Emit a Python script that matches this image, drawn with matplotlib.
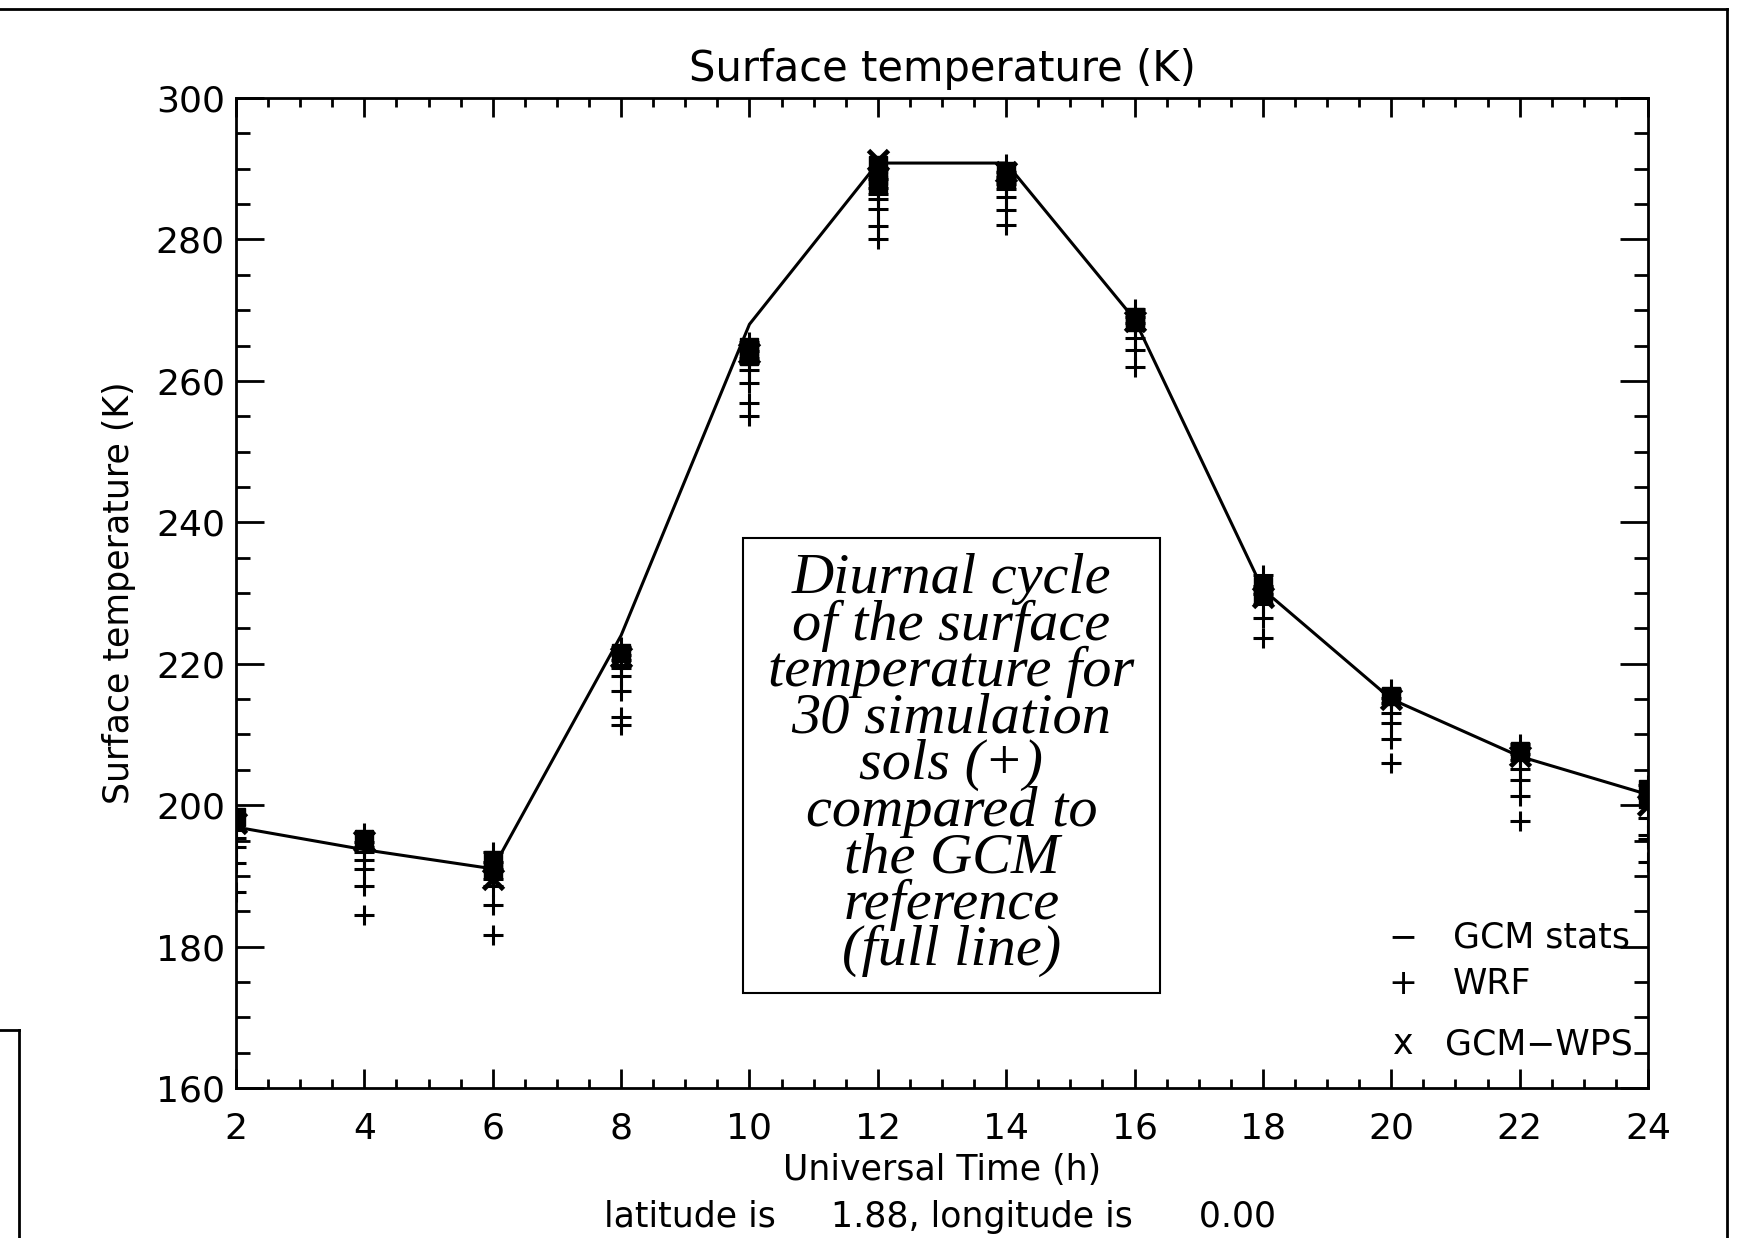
import matplotlib
matplotlib.use('Agg')
import matplotlib.pyplot as plt
from matplotlib.lines import Line2D
from matplotlib.patches import Rectangle
from matplotlib.ticker import MultipleLocator

plt.rcParams['font.family'] = 'DejaVu Sans'

# ---- data ----
hours = [2, 4, 6, 8, 10, 12, 14, 16, 18, 20, 22, 24]

# GCM reference (full line)
gcm_line = [196.9, 193.7, 191.0, 224.0, 268.0, 290.8, 290.8, 268.7, 230.5, 215.0, 206.9, 201.5]

# GCM stats (filled squares), several per hour
gcm_stats = [
    [198.3],
    [195.2],
    [192.3, 190.8],
    [221.5],
    [264.8, 263.5],
    [290.5, 289.0, 287.8],
    [289.7, 288.6],
    [269.0, 268.3],
    [231.0, 229.8],
    [215.4],
    [207.6],
    [202.3, 200.9],
]

# GCM-WPS (x)
gcm_wps = [197.5, 195.0, 189.5, 221.0, 264.0, 291.2, 289.5, 268.5, 229.5, 215.0, 207.0, 200.0]

# WRF, 30 simulation sols (+); overlapping ones not repeated
wrf = [
    [196.5, 195.3, 194.1, 191.8, 187.7],
    [196.0, 194.8, 194.1, 193.4, 192.3, 190.9, 188.5, 184.5],
    [193.4, 192.0, 191.0, 189.5, 188.5, 185.9, 181.6],
    [222.4, 221.2, 220.5, 219.8, 219.4, 218.2, 216.2, 212.5, 211.3],
    [265.5, 264.2, 263.2, 262.5, 261.5, 259.7, 256.8, 255.1],
    [290.0, 288.5, 287.3, 286.4, 285.7, 284.3, 281.9, 280.1],
    [290.7, 289.5, 288.8, 287.9, 287.1, 286.0, 284.2, 282.0],
    [270.1, 269.0, 268.2, 267.4, 266.0, 264.4, 262.0],
    [232.5, 231.0, 229.8, 228.5, 226.4, 223.7],
    [216.4, 215.2, 214.4, 213.0, 211.6, 209.3, 206.0],
    [208.6, 207.2, 206.4, 205.1, 203.6, 201.3, 197.7],
    [202.8, 201.0, 198.2, 195.8, 195.2, 192.0],
]

W, H = 1746, 1238
fig = plt.figure(figsize=(W / 100, H / 100), dpi=100)
ax = fig.add_axes([236 / W, 1 - 1088 / H, 1412 / W, 990 / H])

ax.plot(hours, gcm_line, color='k', lw=2.2, zorder=2)
for h, vals in zip(hours, wrf):
    ax.plot([h] * len(vals), vals, ls='none', marker='+', ms=15, mew=2.2, color='k', zorder=3)
for h, vals in zip(hours, gcm_stats):
    ax.plot([h] * len(vals), vals, ls='none', marker='s', ms=13, color='k', zorder=4)
ax.plot(hours, gcm_wps, ls='none', marker='x', ms=14, mew=3.5, color='k', zorder=4)

ax.set_xlim(2, 24)
ax.set_ylim(160, 300)
ax.xaxis.set_major_locator(MultipleLocator(2))
ax.xaxis.set_minor_locator(MultipleLocator(0.5))
ax.yaxis.set_major_locator(MultipleLocator(20))
ax.yaxis.set_minor_locator(MultipleLocator(5))
ax.tick_params(axis='x', which='both', direction='in', top=True, width=2, labelsize=26, pad=17)
ax.tick_params(axis='x', which='major', length=13.7)
ax.tick_params(axis='x', which='minor', length=6.8)
ax.tick_params(axis='y', which='both', direction='in', right=True, width=2, labelsize=26, pad=8)
ax.tick_params(axis='y', which='major', length=20)
ax.tick_params(axis='y', which='minor', length=10)
for s in ax.spines.values():
    s.set_linewidth(2)

ax.set_title('Surface temperature (K)', fontsize=30, pad=12)
ax.set_ylabel('Surface temperature (K)', fontsize=25)
ax.yaxis.set_label_coords(-0.071, 0.5)
ax.set_xlabel('Universal Time (h)', fontsize=25)
ax.xaxis.set_label_coords(0.5, -0.066)
fig.text(940 / W, 1 - 1227 / H, 'latitude is     1.88, longitude is      0.00',
         ha='center', va='baseline', fontsize=25)

# legend written as text, like the original
leg = [('\u2212', 'GCM stats', 0.1525, 0.862), ('+', 'WRF', 0.105, 0.862), ('x', 'GCM\u2212WPS', 0.0444, 0.856)]
for sym, lab, y, xl in leg:
    ax.text(0.8265, y, sym, transform=ax.transAxes, ha='center', va='center', fontsize=25)
    ax.text(xl, y, lab, transform=ax.transAxes, ha='left', va='center', fontsize=25)

# annotation box
ax.add_patch(Rectangle((0.359, 0.096), 0.2955, 0.4596, transform=ax.transAxes,
                       fill=False, ec='k', lw=1.5, zorder=5))
ax.text(0.5067, 0.326,
        'Diurnal cycle\nof the surface\ntemperature for\n30 simulation\nsols (+)\n'
        'compared to\nthe GCM\nreference\n(full line)',
        transform=ax.transAxes, ha='center', va='center', multialignment='center',
        fontsize=42, family='Liberation Serif', style='italic', linespacing=0.86, zorder=5)

# surrounding frame pieces of the page
lk = dict(color='k', lw=2, transform=fig.transFigure)
fig.add_artist(Line2D([0, 1727 / W], [1 - 9 / H, 1 - 9 / H], **lk))
fig.add_artist(Line2D([1727 / W, 1727 / W], [1 - 9 / H, 0], **lk))
fig.add_artist(Line2D([0, 19 / W], [1 - 1030 / H, 1 - 1030 / H], **lk))
fig.add_artist(Line2D([19 / W, 19 / W], [1 - 1030 / H, 0], **lk))

fig.savefig('out.png', dpi=100)
